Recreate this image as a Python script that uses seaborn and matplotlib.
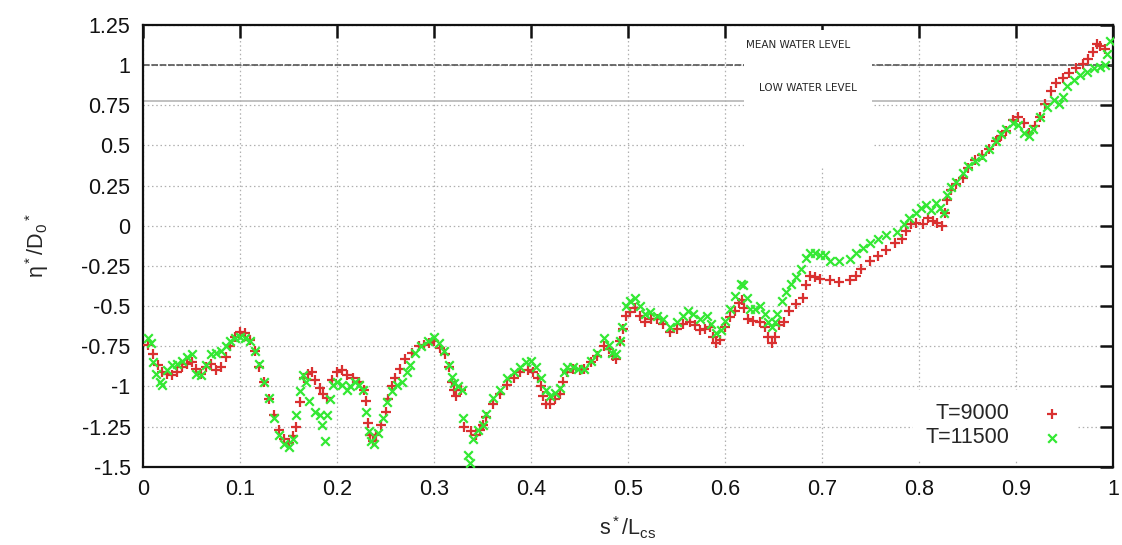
import numpy as np
import pandas as pd
import matplotlib
matplotlib.use("Agg")
import matplotlib.pyplot as plt
import matplotlib.patches as mpatches
import seaborn as sns

# ---------------- data ----------------
s_9000 = [0.005, 0.010, 0.015, 0.020, 0.025, 0.030, 0.035, 0.040, 0.045, 0.050,
          0.055, 0.060, 0.065, 0.070, 0.075, 0.080, 0.085, 0.090, 0.095, 0.100,
          0.105, 0.110, 0.115, 0.120, 0.125, 0.130, 0.135, 0.140, 0.145, 0.150,
          0.155, 0.158, 0.162, 0.166, 0.170, 0.174, 0.177, 0.182, 0.186, 0.190,
          0.195, 0.200, 0.205, 0.210, 0.216, 0.223, 0.228, 0.230, 0.232, 0.234,
          0.237, 0.240, 0.245, 0.250, 0.253, 0.257, 0.260, 0.265, 0.270, 0.277,
          0.284, 0.290, 0.295, 0.300, 0.306, 0.311, 0.315, 0.318, 0.321, 0.323,
          0.328, 0.331, 0.338, 0.343, 0.347, 0.350, 0.354, 0.361, 0.368, 0.375,
          0.382, 0.389, 0.397, 0.402, 0.407, 0.410, 0.412, 0.415, 0.420, 0.425,
          0.430, 0.433, 0.437, 0.443, 0.450, 0.455, 0.462, 0.468, 0.475, 0.480,
          0.485, 0.488, 0.492, 0.495, 0.498, 0.502, 0.507, 0.512, 0.517, 0.524,
          0.530, 0.536, 0.543, 0.550, 0.557, 0.564, 0.569, 0.574, 0.579, 0.585,
          0.588, 0.591, 0.595, 0.600, 0.605, 0.610, 0.614, 0.617, 0.620, 0.624,
          0.629, 0.636, 0.641, 0.644, 0.648, 0.651, 0.656, 0.661, 0.666, 0.673,
          0.680, 0.683, 0.688, 0.693, 0.698, 0.708, 0.718, 0.729, 0.735, 0.740,
          0.749, 0.758, 0.766, 0.775, 0.782, 0.787, 0.792, 0.797, 0.804, 0.809,
          0.814, 0.819, 0.824, 0.827, 0.829, 0.833, 0.838, 0.845, 0.851, 0.858,
          0.865, 0.872, 0.879, 0.885, 0.890, 0.897, 0.902, 0.908, 0.913, 0.920,
          0.925, 0.930, 0.936, 0.941, 0.948, 0.955, 0.962, 0.969, 0.974, 0.979,
          0.983, 0.987, 0.992]
eta_9000 = [-0.74, -0.80, -0.87, -0.91, -0.92, -0.93, -0.91, -0.88, -0.86, -0.85,
            -0.89, -0.92, -0.88, -0.86, -0.90, -0.88, -0.82, -0.75, -0.69, -0.66,
            -0.67, -0.71, -0.78, -0.88, -0.97, -1.08, -1.18, -1.27, -1.33, -1.35,
            -1.31, -1.25, -1.10, -0.95, -0.92, -0.91, -0.96, -1.01, -1.05, -1.07,
            -0.96, -0.91, -0.90, -0.93, -0.95, -0.97, -1.02, -1.09, -1.23, -1.30,
            -1.34, -1.30, -1.24, -1.16, -1.08, -1.00, -0.95, -0.89, -0.83, -0.79,
            -0.75, -0.74, -0.73, -0.72, -0.76, -0.80, -0.88, -0.97, -1.02, -1.06,
            -1.02, -1.25, -1.28, -1.30, -1.27, -1.24, -1.19, -1.11, -1.05, -0.99,
            -0.95, -0.91, -0.90, -0.91, -0.95, -1.00, -1.06, -1.11, -1.11, -1.08,
            -1.05, -0.97, -0.91, -0.89, -0.90, -0.89, -0.85, -0.81, -0.75, -0.77,
            -0.81, -0.83, -0.72, -0.64, -0.56, -0.54, -0.51, -0.56, -0.60, -0.58,
            -0.58, -0.61, -0.66, -0.64, -0.61, -0.60, -0.62, -0.65, -0.64, -0.63,
            -0.69, -0.73, -0.71, -0.63, -0.57, -0.53, -0.48, -0.46, -0.51, -0.58,
            -0.59, -0.60, -0.63, -0.69, -0.73, -0.69, -0.62, -0.60, -0.53, -0.49,
            -0.45, -0.37, -0.31, -0.32, -0.33, -0.34, -0.35, -0.34, -0.31, -0.27,
            -0.22, -0.19, -0.15, -0.11, -0.08, -0.03, 0.01, 0.02, 0.01, 0.05,
            0.03, 0.02, 0.00, 0.08, 0.16, 0.22, 0.26, 0.30, 0.36, 0.41,
            0.44, 0.48, 0.53, 0.56, 0.59, 0.66, 0.68, 0.64, 0.58, 0.62,
            0.68, 0.76, 0.84, 0.89, 0.92, 0.95, 0.98, 1.01, 1.04, 1.08,
            1.13, 1.12, 1.10]

s_11500 = [0.005, 0.008, 0.010, 0.013, 0.017, 0.020, 0.025, 0.030, 0.035, 0.040,
           0.045, 0.050, 0.055, 0.060, 0.065, 0.070, 0.075, 0.080, 0.085, 0.090,
           0.095, 0.100, 0.105, 0.110, 0.115, 0.120, 0.125, 0.130, 0.135, 0.140,
           0.145, 0.150, 0.155, 0.158, 0.162, 0.165, 0.168, 0.171, 0.177, 0.182,
           0.185, 0.188, 0.190, 0.193, 0.196, 0.200, 0.205, 0.210, 0.213, 0.218,
           0.223, 0.227, 0.230, 0.233, 0.235, 0.238, 0.242, 0.247, 0.252, 0.257,
           0.262, 0.267, 0.272, 0.275, 0.280, 0.287, 0.294, 0.300, 0.305, 0.310,
           0.315, 0.318, 0.321, 0.325, 0.329, 0.330, 0.335, 0.337, 0.340, 0.345,
           0.350, 0.354, 0.361, 0.368, 0.375, 0.382, 0.389, 0.395, 0.400, 0.405,
           0.410, 0.415, 0.420, 0.425, 0.430, 0.434, 0.437, 0.443, 0.448, 0.455,
           0.462, 0.468, 0.475, 0.480, 0.483, 0.488, 0.492, 0.494, 0.498, 0.502,
           0.507, 0.512, 0.517, 0.523, 0.530, 0.536, 0.543, 0.550, 0.557, 0.562,
           0.567, 0.574, 0.581, 0.586, 0.591, 0.596, 0.600, 0.605, 0.610, 0.616,
           0.619, 0.623, 0.626, 0.631, 0.636, 0.641, 0.644, 0.648, 0.651, 0.654,
           0.659, 0.663, 0.668, 0.673, 0.678, 0.683, 0.688, 0.693, 0.698, 0.703,
           0.708, 0.718, 0.729, 0.735, 0.742, 0.749, 0.758, 0.766, 0.777, 0.784,
           0.790, 0.797, 0.802, 0.807, 0.812, 0.817, 0.822, 0.826, 0.829, 0.833,
           0.838, 0.845, 0.851, 0.858, 0.865, 0.872, 0.879, 0.885, 0.890, 0.897,
           0.902, 0.908, 0.913, 0.918, 0.925, 0.932, 0.939, 0.944, 0.948, 0.953,
           0.960, 0.966, 0.973, 0.980, 0.987, 0.992, 0.994, 0.997]
eta_11500 = [-0.70, -0.73, -0.85, -0.92, -0.97, -0.99, -0.90, -0.87, -0.86, -0.84,
             -0.82, -0.80, -0.92, -0.93, -0.87, -0.80, -0.79, -0.78, -0.75, -0.72,
             -0.70, -0.69, -0.70, -0.72, -0.78, -0.86, -0.97, -1.07, -1.20, -1.30,
             -1.36, -1.38, -1.33, -1.18, -1.03, -0.93, -0.97, -1.09, -1.16, -1.18,
             -1.24, -1.34, -1.18, -1.08, -0.99, -0.97, -0.99, -1.02, -1.00, -0.97,
             -0.99, -1.02, -1.16, -1.28, -1.34, -1.36, -1.29, -1.20, -1.10, -1.03,
             -0.99, -0.97, -0.91, -0.87, -0.79, -0.75, -0.72, -0.69, -0.73, -0.78,
             -0.87, -0.94, -0.98, -1.00, -1.02, -1.20, -1.43, -1.48, -1.33, -1.27,
             -1.24, -1.17, -1.07, -1.02, -0.95, -0.91, -0.88, -0.85, -0.84, -0.88,
             -0.95, -1.02, -1.06, -1.04, -1.01, -0.91, -0.88, -0.88, -0.89, -0.89,
             -0.84, -0.79, -0.70, -0.74, -0.79, -0.80, -0.72, -0.63, -0.50, -0.47,
             -0.45, -0.50, -0.55, -0.54, -0.56, -0.58, -0.63, -0.60, -0.56, -0.53,
             -0.55, -0.58, -0.56, -0.61, -0.67, -0.65, -0.59, -0.52, -0.44, -0.36,
             -0.37, -0.45, -0.52, -0.52, -0.50, -0.55, -0.60, -0.63, -0.60, -0.55,
             -0.47, -0.41, -0.36, -0.32, -0.27, -0.20, -0.17, -0.17, -0.18, -0.18,
             -0.22, -0.22, -0.21, -0.17, -0.14, -0.11, -0.08, -0.06, -0.04, 0.01,
             0.05, 0.08, 0.11, 0.13, 0.10, 0.14, 0.11, 0.08, 0.19, 0.24,
             0.27, 0.33, 0.37, 0.40, 0.43, 0.48, 0.53, 0.57, 0.60, 0.64,
             0.63, 0.58, 0.56, 0.60, 0.68, 0.74, 0.78, 0.76, 0.80, 0.87,
             0.91, 0.94, 0.96, 0.98, 0.99, 1.00, 1.07, 1.15]

series_names = ["T=9000", "T=11500"]
x_ticks = [0, 0.1, 0.2, 0.3, 0.4, 0.5, 0.6, 0.7, 0.8, 0.9, 1.0]
x_tick_labels = ["0", "0.1", "0.2", "0.3", "0.4", "0.5", "0.6", "0.7", "0.8", "0.9", "1"]
y_ticks = [-1.5, -1.25, -1.0, -0.75, -0.5, -0.25, 0, 0.25, 0.5, 0.75, 1.0, 1.25]
y_tick_labels = ["-1.5", "-1.25", "-1", "-0.75", "-0.5", "-0.25", "0", "0.25",
                 "0.5", "0.75", "1", "1.25"]
mean_water_level = 1.0
low_water_level = 0.775
level_texts = ["MEAN WATER LEVEL", "LOW WATER LEVEL"]

# ---------------- style ----------------
sns.set_style("white")
plt.rcParams["font.family"] = ["Liberation Sans", "DejaVu Sans"]
plt.rcParams["mathtext.fontset"] = "custom"
plt.rcParams["mathtext.rm"] = "Liberation Sans"
plt.rcParams["mathtext.it"] = "Liberation Sans"
plt.rcParams["mathtext.default"] = "regular"

fig = plt.figure(figsize=(11.22, 5.45), dpi=100)
ax = fig.add_axes([0.1275, 0.1437, 0.8645, 0.8105])

red = "#d93030"
green = "#33e833"

df_a = pd.DataFrame({"s": s_9000, "eta": eta_9000})
df_b = pd.DataFrame({"s": s_11500, "eta": eta_11500})

sns.scatterplot(data=df_a, x="s", y="eta", marker="+", color=red, s=48,
                linewidth=1.6, ax=ax, label=series_names[0], zorder=3)
sns.scatterplot(data=df_b, x="s", y="eta", marker="x", color=green, s=38,
                linewidth=1.6, ax=ax, label=series_names[1], zorder=4)

ax.set_xlim(0, 1)
ax.set_ylim(-1.5, 1.25)
ax.set_xticks(x_ticks)
ax.set_xticklabels(x_tick_labels)
ax.set_yticks(y_ticks)
ax.set_yticklabels(y_tick_labels)

ax.grid(True, color="#b0b0b0", linestyle=(0, (1.2, 2.2)), linewidth=0.9, zorder=0)
ax.set_axisbelow(True)

# water level lines
ax.axhline(mean_water_level, color="#555555", lw=1.2, ls=(0, (4, 1)), zorder=1)
ax.axhline(low_water_level, color="#b5b5b5", lw=1.2, zorder=1)

# white annotation box (covers grid) with texts
ax.add_patch(mpatches.Rectangle((0.62, 0.36), 0.132, 0.86, facecolor="white",
                                edgecolor="none", zorder=2))
ax.text(0.675, 1.125, level_texts[0], ha="center", va="center", fontsize=7.5,
        family=["Liberation Sans Narrow", "DejaVu Sans"], zorder=5)
ax.text(0.685, 0.857, level_texts[1], ha="center", va="center", fontsize=7.5,
        family=["Liberation Sans Narrow", "DejaVu Sans"], zorder=5)

for sp in ax.spines.values():
    sp.set_color("#111111")
    sp.set_linewidth(1.6)

ax.tick_params(axis="both", which="both", direction="in", length=9.5, width=1.8,
               top=True, right=True, labelsize=15.5, colors="#111111")
ax.tick_params(axis="x", pad=9)
ax.tick_params(axis="y", pad=9)

ax.set_xlabel("s$^*$/L$_{cs}$", fontsize=15.5, labelpad=10)
ax.set_ylabel("η$^*$/D$_0$$^*$", fontsize=15.5, labelpad=22)

leg = ax.legend(loc="lower right", bbox_to_anchor=(0.962, 0.012), frameon=True,
                markerfirst=False, fontsize=15.5, handlelength=1.0,
                handletextpad=1.5, labelspacing=0.15, borderpad=0.6,
                borderaxespad=0.0, fancybox=False)
leg.get_frame().set_facecolor("white")
leg.get_frame().set_edgecolor("none")
leg.get_frame().set_alpha(1.0)
for t in leg.get_texts():
    t.set_ha("right")
leg._legend_box.align = "right"
leg.set_zorder(6)

fig.savefig("out.png", dpi=100)
